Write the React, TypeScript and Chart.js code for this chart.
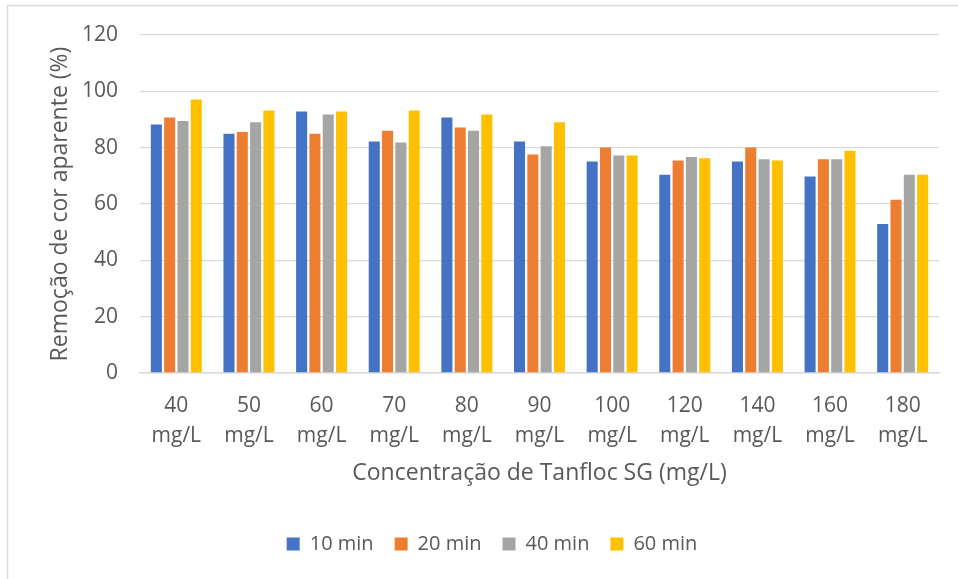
import React, { useEffect, useRef } from "react";
import { Chart, registerables } from "chart.js";

Chart.register(...registerables);

const categories: string[][] = [
  ["40", "mg/L"], ["50", "mg/L"], ["60", "mg/L"], ["70", "mg/L"], ["80", "mg/L"],
  ["90", "mg/L"], ["100", "mg/L"], ["120", "mg/L"], ["140", "mg/L"], ["160", "mg/L"], ["180", "mg/L"],
];

const seriesNames = ["10 min", "20 min", "40 min", "60 min"];

const min10 = [88.2, 84.9, 92.8, 82.2, 90.7, 82.2, 75.1, 70.4, 75.1, 69.8, 52.9];
const min20 = [90.7, 85.6, 84.9, 86.0, 87.2, 77.6, 80.1, 75.4, 80.1, 75.9, 61.5];
const min40 = [89.5, 89.0, 91.8, 81.8, 86.0, 80.5, 77.2, 76.7, 75.9, 75.9, 70.4];
const min60 = [97.1, 93.2, 92.8, 93.2, 91.8, 89.0, 77.2, 76.2, 75.4, 78.9, 70.4];

const seriesColors = ["#4472C4", "#ED7D31", "#A5A5A5", "#FFC000"];

const yMax = 120;
const yStep = 20;

const FONT = "'Open Sans', sans-serif";
const TEXT = "#595959";
const GRID = "#d9d9d9";

// white page background plus the thin frame around the chart
const framePlugin = {
  id: "frame",
  beforeDraw(chart: Chart) {
    const ctx = chart.ctx;
    ctx.save();
    ctx.fillStyle = "#ffffff";
    ctx.fillRect(0, 0, chart.width, chart.height);
    ctx.strokeStyle = GRID;
    ctx.lineWidth = 1.5;
    ctx.strokeRect(7.5, 5.5, chart.width + 20, chart.height + 20);
    ctx.restore();
  },
};

export default function App() {
  const ref = useRef<HTMLCanvasElement | null>(null);

  useEffect(() => {
    if (!ref.current) return;
    const values = [min10, min20, min40, min60];
    const chart = new Chart(ref.current, {
      type: "bar",
      data: {
        labels: categories,
        datasets: values.map((v, i) => ({
          label: seriesNames[i],
          data: v,
          backgroundColor: seriesColors[i],
          borderWidth: 0,
          categoryPercentage: 0.733,
          barPercentage: 0.83,
        })),
      },
      options: {
        animation: false,
        responsive: false,
        devicePixelRatio: 1,
        layout: { padding: { left: 45, right: 19, top: 35, bottom: 15 } },
        plugins: {
          legend: {
            position: "bottom",
            labels: {
              boxWidth: 13,
              boxHeight: 13,
              padding: 21,
              color: TEXT,
              font: { family: FONT, size: 20 },
            },
          },
          tooltip: { enabled: false },
        },
        scales: {
          x: {
            grid: { display: false, drawTicks: false },
            border: { display: true, color: GRID, width: 1.5 },
            ticks: {
              color: TEXT,
              padding: 18,
              maxRotation: 0,
              autoSkip: false,
              font: { family: FONT, size: 21, lineHeight: 1.43 },
            },
            title: {
              display: true,
              text: "Concentração de Tanfloc SG (mg/L)",
              color: TEXT,
              font: { family: FONT, size: 23 },
              padding: { top: 0, bottom: 26 },
            },
            afterFit(scale: any) {
              scale.height = 140;
            },
          },
          y: {
            min: 0,
            max: yMax,
            grid: { color: GRID, lineWidth: 1.3, drawTicks: false },
            border: { display: false },
            ticks: {
              stepSize: yStep,
              color: TEXT,
              padding: 22,
              font: { family: FONT, size: 21 },
            },
            title: {
              display: true,
              text: "Remoção de cor aparente (%)",
              color: TEXT,
              font: { family: FONT, size: 23 },
              padding: { top: 2, bottom: 0 },
            },
            afterFit(scale: any) {
              scale.width = 95;
            },
          },
        },
      },
      plugins: [framePlugin],
    });
    return () => chart.destroy();
  }, []);

  return (
    <div style={{ position: "absolute", left: 0, top: 0, width: 958, height: 579 }}>
      <canvas ref={ref} width={958} height={579} style={{ display: "block", width: 958, height: 579 }} />
    </div>
  );
}
